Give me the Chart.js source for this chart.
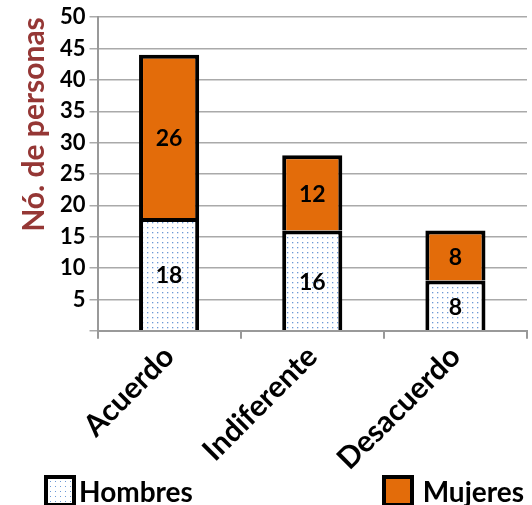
<!DOCTYPE html>
<html>
<head>
<meta charset="utf-8">
<script src="https://cdn.jsdelivr.net/npm/chart.js@4.4.0/dist/chart.umd.min.js"></script>
<style>
  html, body { margin: 0; padding: 0; background: #fff; }
  #wrap { width: 532px; height: 477px; position: relative; }
  #legend {
    width: 532px; height: 28px; position: relative;
    font-family: Lato, "Liberation Sans", Arial, sans-serif;
    font-weight: bold; font-size: 28px; color: #000;
  }
  .item { position: absolute; top: -3px; display: flex; align-items: center; }
  .box { width: 24px; height: 24px; border: 4px solid #000; }
  .dots {
    background-color: #fff;
    background-image: radial-gradient(circle, #6d9ad6 0.8px, transparent 1px);
    background-size: 5px 5px;
  }
</style>
</head>
<body>
<div id="wrap"><canvas id="opinionChart"></canvas></div>
<div id="legend"></div>
<script>
// data
const categories = ['Acuerdo', 'Indiferente', 'Desacuerdo'];
const hombres = [18, 16, 8];
const mujeres = [26, 12, 8];
const yTicks = [0, 5, 10, 15, 20, 25, 30, 35, 40, 45, 50];

const FONT = 'Lato, "Liberation Sans", Arial, sans-serif';

// dotted fill for Hombres
function dotPattern() {
  const c = document.createElement('canvas');
  c.width = 5; c.height = 5;
  const g = c.getContext('2d');
  g.fillStyle = '#ffffff';
  g.fillRect(0, 0, 5, 5);
  g.fillStyle = '#6d9ad6';
  g.fillRect(2, 2, 1.3, 1.3);
  return g.createPattern(c, 'repeat');
}

// numbers written in the middle of each segment
const segmentLabels = {
  id: 'segmentLabels',
  afterDatasetsDraw(chart) {
    const ctx = chart.ctx;
    ctx.save();
    ctx.font = 'bold 23px ' + FONT;
    ctx.fillStyle = '#000';
    ctx.textAlign = 'center';
    ctx.textBaseline = 'middle';
    chart.data.datasets.forEach((ds, i) => {
      chart.getDatasetMeta(i).data.forEach((bar, j) => {
        const y = (bar.y + bar.base) / 2;
        ctx.fillText(ds.data[j], bar.x, y + 2);
      });
    });
    ctx.restore();
  }
};

const ctx = document.getElementById('opinionChart').getContext('2d');
const chart = new Chart(ctx, {
  type: 'bar',
  data: {
    labels: categories,
    datasets: [
      {
        label: 'Hombres',
        data: hombres,
        backgroundColor: dotPattern(),
        borderColor: '#000',
        borderWidth: 4
      },
      {
        label: 'Mujeres',
        data: mujeres,
        backgroundColor: '#e36c0a',
        borderColor: '#000',
        borderWidth: 4
      }
    ]
  },
  options: {
    responsive: true,
    maintainAspectRatio: false,
    animation: false,
    layout: { padding: { top: 16, right: 5, left: 12, bottom: 0 } },
    datasets: { bar: { barPercentage: 0.42, categoryPercentage: 1 } },
    plugins: {
      tooltip: { enabled: false },
      legend: { display: false }
    },
    scales: {
      x: {
        stacked: true,
        grid: { offset: true, drawOnChartArea: false, drawTicks: true, tickLength: 8, color: '#999', lineWidth: 2 },
        border: { color: '#999', width: 2 },
        ticks: {
          color: '#000',
          minRotation: 45,
          maxRotation: 45,
          padding: 0,
          font: { family: FONT, size: 30, weight: 'bold' }
        }
      },
      y: {
        stacked: true,
        min: yTicks[0],
        max: yTicks[yTicks.length - 1],
        afterBuildTicks(axis) { axis.ticks = yTicks.map(v => ({ value: v })); },
        grid: { color: '#aaa', lineWidth: 1.5, tickLength: 8 },
        border: { color: '#999', width: 2 },
        ticks: {
          color: '#000',
          padding: 4,
          autoSkip: false,
          font: { family: FONT, size: 22, weight: 'bold' },
          callback: v => (v === 0 ? '' : v)
        },
        title: {
          display: true,
          text: 'Nó. de personas',
          align: 'end',
          color: '#953735',
          padding: 4,
          font: { family: FONT, size: 30, weight: 'bold' }
        }
      }
    }
  },
  plugins: [segmentLabels]
});

// legend below the chart, items at the two ends
const legendPos = [{ left: '44px' }, { right: '8px' }];
const legendGap = ['3px', '9px'];
const legend = document.getElementById('legend');
chart.data.datasets.forEach((ds, i) => {
  const item = document.createElement('div');
  item.className = 'item';
  Object.assign(item.style, legendPos[i]);
  const box = document.createElement('div');
  box.className = 'box' + (i === 0 ? ' dots' : '');
  box.style.marginRight = legendGap[i];
  if (i === 1) box.style.background = ds.backgroundColor;
  const txt = document.createElement('span');
  txt.textContent = ds.label;
  item.appendChild(box);
  item.appendChild(txt);
  legend.appendChild(item);
});
</script>
</body>
</html>
